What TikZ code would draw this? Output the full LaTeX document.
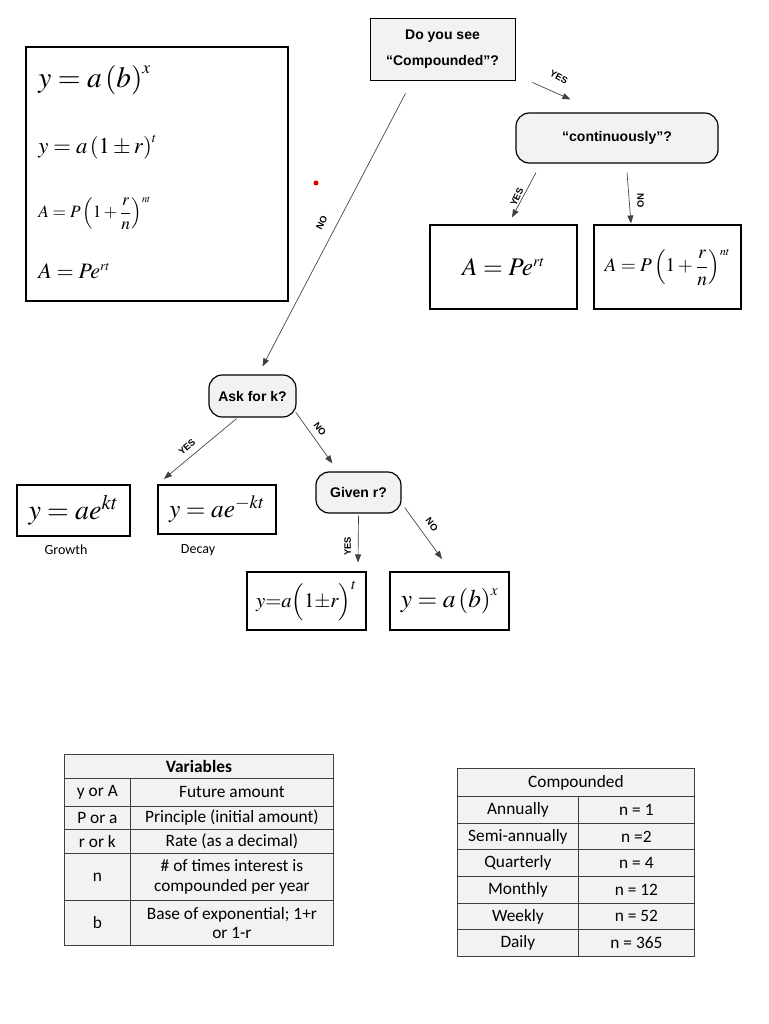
\documentclass[tikz,border=0pt]{standalone}
\usepackage{mathptmx}
\usepackage[no-math]{fontspec}
\setmainfont{Carlito}
\newfontfamily\flowfont{Liberation Sans}
\usetikzlibrary{arrows.meta}

\definecolor{cellgray}{HTML}{F2F2F2}
\definecolor{linegray}{HTML}{404040}
\definecolor{dotred}{HTML}{E00000}

\newcommand\smallexp[1]{^{\scriptscriptstyle #1}}

\tikzset{
  wh/.style 2 args={minimum width=#1*0.75pt, minimum height=#2*0.75pt},
  qbox/.style={draw=black, fill=cellgray, line width=0.6pt, inner sep=0pt,
    font=\flowfont\bfseries\fontsize{10.5}{12}\selectfont, align=center},
  qround/.style={qbox, rounded corners=10pt, line width=0.9pt},
  eqbox/.style={draw=black, line width=0.8pt, inner sep=0pt},
  eqboxthick/.style={eqbox, line width=1.6pt},
  flow/.style={draw=linegray, line width=0.5pt, -{Triangle[length=6pt,width=4.5pt]}},
  ans/.style={font=\flowfont\bfseries\fontsize{7}{8}\selectfont, inner sep=0pt},
  cell/.style={draw=linegray, fill=cellgray, line width=0.6pt, inner sep=0pt,
    font=\fontsize{13}{14.5}\selectfont, align=center, anchor=north west},
  caption/.style={font=\fontsize{10.5}{12}\selectfont, inner sep=0pt},
}

\begin{document}
\begin{tikzpicture}[x=0.75pt, y=-0.75pt]
\useasboundingbox (0,0) rectangle (768,1024);

% formula summary box
\node[eqbox, wh={262}{254}] (summary) at (157,174) {};
\node[anchor=west, inner sep=0pt, font=\fontsize{22}{24}\selectfont] (fone) at (38,80) {$y=a\left(b\right)\smallexp{x}$};
\node[anchor=west, inner sep=0pt, font=\fontsize{17}{20}\selectfont] (ftwo) at (38,147) {$y=a\left(1\pm r\right)\smallexp{t}$};
\node[anchor=west, inner sep=0pt, font=\fontsize{13}{16}\selectfont] (fthree) at (38,213) {$A=P\left(1+{\displaystyle\frac{r}{n}}\right)\smallexp{nt}$};
\node[anchor=west, inner sep=0pt, font=\fontsize{16.5}{20}\selectfont] (ffour) at (38,271) {$A=Pe\smallexp{rt}$};

\fill[dotred] (316,183) circle (2.5);

% top question
\node[qbox, wh={145}{62}] (compq) at (442.5,49) {Do you see\\[8pt]\textquotedblleft Compounded\textquotedblright?};
\node[qround, wh={202}{50}] (contq) at (617,138) {\textquotedblleft continuously\textquotedblright?};
\node[eqbox, wh={147}{84}, font=\fontsize{19}{22}\selectfont] (pert) at (503.5,267) {$A=Pe\smallexp{rt}$};
\node[eqbox, wh={147}{84}, font=\fontsize{14.5}{18}\selectfont] (pnrt) at (667.5,267) {$A=P\left(1+{\displaystyle\frac{r}{n}}\right)\smallexp{nt}$};

\draw[flow] ([shift={(17,2)}]compq.south east) -- ([shift={(55,-13)}]contq.north west)
  node[ans, pos=0.65, above=10pt, rotate=-28] (yesone) {YES};
\draw[flow] ([shift={(-81,9)}]contq.south) -- ([shift={(8.5,-7)}]pert.north)
  node[ans, pos=0.35, left=5pt, rotate=65] (yestwo) {YES};
\draw[flow] ([shift={(10,9)}]contq.south) -- ([shift={(-36.5,-1)}]pnrt.north)
  node[ans, pos=0.4, right=9pt, rotate=-90] (notwo) {NO};

% no compounding
\node[qround, wh={87}{42}] (askk) at (252.5,396) {Ask for k?};
\draw[flow] ([shift={(-37,13)}]compq.south) -- ([shift={(10,-8)}]askk.north)
  node[ans, pos=0.45, left=12pt, rotate=62] (noone) {NO};

\node[eqbox, wh={113}{51}, font=\fontsize{21}{24}\selectfont] (growth) at (73.5,510.5) {$y=ae^{kt}$};
\node[eqboxthick, wh={118}{49}, font=\fontsize{19}{22}\selectfont] (decay) at (217,509.5) {$y=ae^{-kt}$};
\node[caption] (growlbl) at (66,550) {Growth};
\node[caption] (decaylbl) at (198,550) {Decay};

\draw[flow] ([shift={(-16,1)}]askk.south) -- ([shift={(7,-5)}]decay.north west)
  node[ans, pos=0.65, above=6pt, rotate=41] (yesthree) {YES};

\node[qround, wh={85}{41}] (givenr) at (358.5,492.5) {Given r?};
\draw[flow] ([shift={(-1,16)}]askk.east) -- ([shift={(17,-8)}]givenr.north west)
  node[ans, pos=0.58, above=8pt, rotate=-54] (nothree) {NO};

\node[eqbox, wh={119}{58}, font=\fontsize{15.5}{18}\selectfont] (rform) at (306.5,601) {$y{=}a\Bigl(1{\pm}r\Bigr)^{t}$};
\node[eqboxthick, wh={119}{58}, font=\fontsize{19}{22}\selectfont] (bform) at (449.5,601) {$y=a\left(b\right)\smallexp{x}$};

\draw[flow] ([shift={(0,2)}]givenr.south) -- ([shift={(51.5,-9)}]rform.north)
  node[ans, pos=0.45, left=8pt, rotate=90] (yesfour) {YES};
\draw[flow] ([shift={(3,15)}]givenr.east) -- ([shift={(-7.5,-12)}]bform.north)
  node[ans, pos=0.22, right=11pt, rotate=-54] (nofour) {NO};

% variables table
\node[cell, wh={269}{24}] (varhead) at (64,754) {\textbf{Variables}};
\foreach \y/\h/\sym/\mean [count=\i] in {778/28/y or A/Future amount,
    806/23/P or a/Principle (initial amount),
    829/24/r or k/Rate (as a decimal),
    853/47/n/{\# of times interest is\\compounded per year},
    900/45/b/{Base of exponential; 1+r\\or 1-r}}{
  \node[cell, wh={66}{\h}] (varsym\i) at (64,\y) {\sym};
  \node[cell, wh={203}{\h}] (varmean\i) at (130,\y) {\mean};
}

% compounding table
\node[cell, wh={237}{28}] (comphead) at (457,768) {Compounded};
\foreach \name/\val [count=\i] in {Annually/n = 1, Semi-annually/n =2, Quarterly/n = 4,
    Monthly/n = 12, Weekly/n = 52, Daily/n = 365}{
  \node[cell, wh={121}{26.67}] (compname\i) at (457,{796+(\i-1)*26.67}) {\name};
  \node[cell, wh={116}{26.67}] (compval\i) at (578,{796+(\i-1)*26.67}) {\val};
}
\end{tikzpicture}
\end{document}
